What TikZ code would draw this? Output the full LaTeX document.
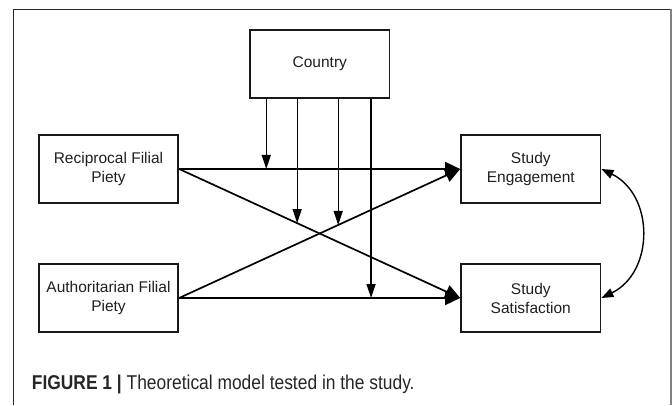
\documentclass[tikz,border=0pt]{standalone}
\usepackage{fontspec}
\setmainfont{Liberation Sans}
\newfontfamily\capfont[FakeStretch=0.87]{Liberation Sans}
\usetikzlibrary{arrows.meta,calc}

\begin{document}
\begin{tikzpicture}[x=1pt, y=1pt,
		box/.style={draw=black!90, line width=1.8pt, minimum width=139.5pt, minimum height=68.5pt, inner sep=0pt, align=center, text=black!88, font=\fontsize{15.5}{19}\selectfont},
		effect/.style={line width=1.7pt, -{Triangle[length=15pt, width=14pt]}},
		moderator/.style={line width=1.3pt, -{Triangle[length=14pt, width=9pt]}},
		covary/.style={line width=1.4pt, {Triangle[length=12pt, width=9pt]}-{Triangle[length=12pt, width=9pt]}}]
		\useasboundingbox (0, 0) rectangle (672, 405);
		
		% Frame
		\draw [black!85, line width=1pt] (13, 0) -- (13, 395.7) -- (670.5, 395.7);
		\draw [black!50, line width=2pt] (670.5, 396.2) -- (670.5, 0);
		
		% Boxes
		% Moderator
		\node [box] (country) at (319.8, 341) {Country};
		
		% Predictors
		\node [box] (recip) at (108.5, 236) {Reciprocal Filial\\Piety};
		\node [box] (auth) at (108.5, 107) {Authoritarian Filial\\Piety};
		
		% Outcomes
		\node [box] (engage) at (530.8, 236) {Study\\Engagement};
		\node [box] (satis) at (530.8, 107) {Study\\Satisfaction};
		
		% Direct Paths
		\draw [effect] (recip.east) -- (engage.west);
		\draw [effect] (recip.east) -- (satis.west);
		\draw [effect] (auth.east) -- (engage.west);
		\draw [effect] (auth.east) -- (satis.west);
		
		% Moderation Points
		\coordinate (mod1) at ($(recip.east)!0.31!(engage.west)$);
		\coordinate (mod2) at ($(recip.east)!0.42!(satis.west)$);
		\coordinate (mod3) at ($(auth.east)!0.566!(engage.west)$);
		\coordinate (mod4) at ($(auth.east)!0.683!(satis.west)$);
		
		% Country Signals
		\draw [moderator] (mod1 |- country.south) -- (mod1);
		\draw [moderator] (mod2 |- country.south) -- (mod2);
		\draw [moderator] (mod3 |- country.south) -- (mod3);
		\draw [moderator] (mod4 |- country.south) -- (mod4);
		
		% Covariance
		\draw [covary] (engage.east) .. controls +(53, -26) and +(53, 26) .. (satis.east);
		
		% Caption
		\node [anchor=base west, inner sep=0pt, text=black!85, font=\capfont\fontsize{20}{24}\selectfont] (caption) at (31.7, 16) {\textbf{FIGURE 1 |} Theoretical model tested in the study.};
		
	\end{tikzpicture}
\end{document}
